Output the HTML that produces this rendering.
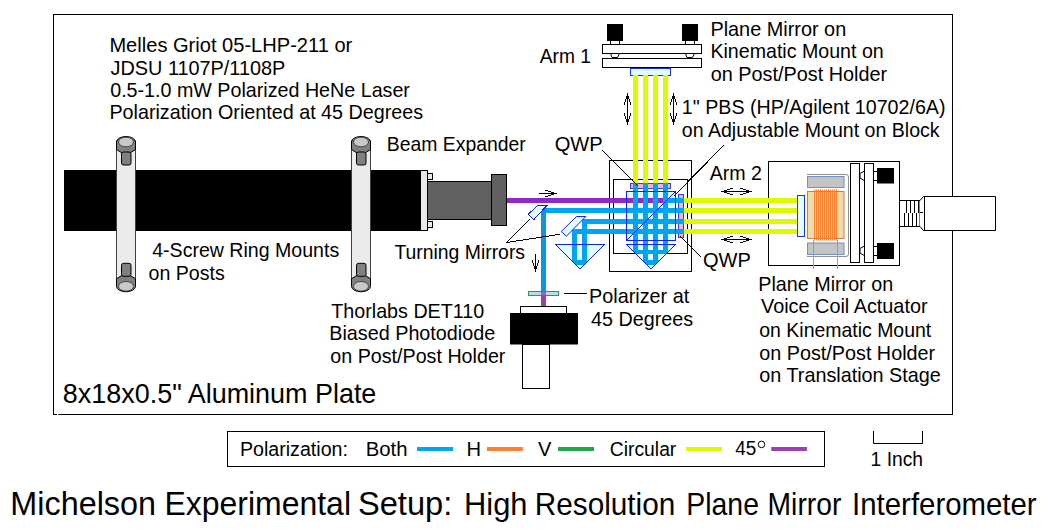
<!DOCTYPE html>
<html><head><meta charset="utf-8"><style>
html,body{margin:0;padding:0;background:#fff;overflow:hidden;}
svg{display:block;}
text{font-family:"Liberation Sans",sans-serif;fill:#000;white-space:pre;}
</style></head><body>
<svg width="1052" height="530" viewBox="0 0 1052 530">
<rect x="0" y="0" width="1052" height="530" fill="#fff"/>
<defs>
<clipPath id="rr1"><polygon points="555.5,244.5 604.5,244.5 580,269"/></clipPath>
<clipPath id="rr2"><polygon points="626.5,244.5 675.5,244.5 651,269"/></clipPath>
<g id="screw">
<path d="M116.5,142 A9.5,5.5 0 0 1 135.5,142 V149.5 Q126,157.5 116.5,149.5 Z" fill="#808080" stroke="#000" stroke-width="1"/>
<ellipse cx="126" cy="142" rx="7.5" ry="4.8" fill="#c8c8c8" stroke="#303030" stroke-width="0.8"/>
<rect x="121.5" y="152" width="9.5" height="13" rx="2" fill="#808080" stroke="#000" stroke-width="1"/>
</g>
</defs>
<!-- plate -->
<rect x="53.5" y="14.5" width="899" height="400" fill="none" stroke="#000" stroke-width="1"/>

<rect x="57" y="413.5" width="1.2" height="1.5" fill="#fff"/>
<!-- laser -->
<rect x="64" y="170" width="356" height="61" fill="#000"/>
<rect x="420.5" y="170.5" width="7" height="60" fill="#e8e8e8" stroke="#000"/>
<rect x="427.5" y="173.5" width="5" height="6" fill="#e8e8e8" stroke="#000"/>
<rect x="427.5" y="221.5" width="5" height="6" fill="#e8e8e8" stroke="#000"/>
<rect x="427.5" y="181.5" width="64" height="38" fill="#606060" stroke="#000"/>
<rect x="491.5" y="174.5" width="15" height="51" fill="#606060" stroke="#000"/>

<!-- ring mounts -->
<rect x="116.5" y="141" width="19" height="144" fill="#ebebeb" stroke="#404040"/>
<use href="#screw"/>
<use href="#screw" transform="translate(0,428.3) scale(1,-1)"/>
<g transform="translate(235,0)">
<rect x="116.5" y="141" width="19" height="144" fill="#ebebeb" stroke="#404040"/>
<use href="#screw"/>
<use href="#screw" transform="translate(0,428.3) scale(1,-1)"/>
</g>

<!-- arm1 mount -->
<rect x="607" y="24" width="16" height="17" fill="#000"/>
<rect x="682" y="24" width="16" height="17" fill="#000"/>
<rect x="610.5" y="40.5" width="9" height="4" fill="#fff" stroke="#000"/>
<rect x="685.5" y="40.5" width="9" height="4" fill="#fff" stroke="#000"/>
<rect x="602.5" y="44.5" width="99" height="9" fill="#fff" stroke="#000"/>
<rect x="602.5" y="58.5" width="99" height="9" fill="#fff" stroke="#000"/>
<path d="M610.5,53.5 L612,57.5 H617.5 L619.5,53.5 M685.5,53.5 L687,57.5 H692.5 L694.5,53.5" fill="none" stroke="#000"/>
<rect x="630.5" y="68.5" width="40" height="7" fill="#e0ffff" stroke="#2030e0"/>

<!-- arrows -->
<g fill="#000" shape-rendering="crispEdges">
<rect x="539" y="193" width="18" height="1"/>
<rect x="551" y="192" width="3" height="3"/>
<rect x="545" y="190" width="3" height="1"/>
<rect x="548" y="191" width="3" height="1"/>
<rect x="545" y="196" width="3" height="1"/>
<rect x="548" y="195" width="3" height="1"/>
<rect x="721" y="191" width="31" height="1"/>
<rect x="724" y="190" width="3" height="3"/>
<rect x="746" y="190" width="3" height="3"/>
<rect x="727" y="189" width="3" height="1"/>
<rect x="730" y="188" width="3" height="1"/>
<rect x="727" y="193" width="3" height="1"/>
<rect x="730" y="194" width="3" height="1"/>
<rect x="743" y="189" width="3" height="1"/>
<rect x="740" y="188" width="3" height="1"/>
<rect x="743" y="193" width="3" height="1"/>
<rect x="740" y="194" width="3" height="1"/>
<rect x="721" y="239" width="31" height="1"/>
<rect x="724" y="238" width="3" height="3"/>
<rect x="746" y="238" width="3" height="3"/>
<rect x="727" y="237" width="3" height="1"/>
<rect x="730" y="236" width="3" height="1"/>
<rect x="727" y="241" width="3" height="1"/>
<rect x="730" y="242" width="3" height="1"/>
<rect x="743" y="237" width="3" height="1"/>
<rect x="740" y="236" width="3" height="1"/>
<rect x="743" y="241" width="3" height="1"/>
<rect x="740" y="242" width="3" height="1"/>
<rect x="627" y="93" width="1" height="32"/>
<rect x="626" y="96" width="3" height="3"/>
<rect x="626" y="119" width="3" height="3"/>
<rect x="625" y="99" width="1" height="3"/>
<rect x="624" y="102" width="1" height="3"/>
<rect x="629" y="99" width="1" height="3"/>
<rect x="630" y="102" width="1" height="3"/>
<rect x="625" y="116" width="1" height="3"/>
<rect x="624" y="113" width="1" height="3"/>
<rect x="629" y="116" width="1" height="3"/>
<rect x="630" y="113" width="1" height="3"/>
<rect x="673" y="93" width="1" height="32"/>
<rect x="672" y="96" width="3" height="3"/>
<rect x="672" y="119" width="3" height="3"/>
<rect x="671" y="99" width="1" height="3"/>
<rect x="670" y="102" width="1" height="3"/>
<rect x="675" y="99" width="1" height="3"/>
<rect x="676" y="102" width="1" height="3"/>
<rect x="671" y="116" width="1" height="3"/>
<rect x="670" y="113" width="1" height="3"/>
<rect x="675" y="116" width="1" height="3"/>
<rect x="676" y="113" width="1" height="3"/>
<rect x="535" y="254" width="1" height="18"/>
<rect x="534" y="266" width="3" height="3"/>
<rect x="532" y="260" width="1" height="3"/>
<rect x="533" y="263" width="1" height="3"/>
<rect x="538" y="260" width="1" height="3"/>
<rect x="537" y="263" width="1" height="3"/>
</g>

<!-- boxes -->
<rect x="609.5" y="160.5" width="82" height="111" fill="none" stroke="#000"/>
<rect x="613.5" y="179.5" width="74" height="74" fill="none" stroke="#000"/>
<rect x="768.5" y="161.5" width="131" height="104" fill="none" stroke="#000"/>
<!-- yellow beams -->
<g fill="#dcfa00">
<rect x="633" y="75" width="5" height="108"/>
<rect x="643" y="75" width="5" height="108"/>
<rect x="653" y="75" width="5" height="108"/>
<rect x="663" y="75" width="5" height="108"/>
<rect x="684" y="198" width="113" height="5"/>
<rect x="684" y="208" width="113" height="5"/>
<rect x="684" y="219" width="113" height="5"/>
<rect x="684" y="229" width="113" height="5"/>
</g>

<!-- PBS boxes -->

<!-- fills -->
<polygon points="555.5,244.5 604.5,244.5 580,269" fill="#e0ffff"/>
<polygon points="626.5,244.5 675.5,244.5 651,269" fill="#e0ffff"/>
<rect x="626.5" y="191.5" width="49" height="49" fill="#e0ffff"/>
<rect x="630.5" y="183.5" width="40" height="5" fill="#ffb0b8" stroke="#3040e0"/>
<rect x="678.5" y="194.5" width="5" height="43" fill="#ffb0b8" stroke="#3040e0"/>

<!-- purple beam -->
<rect x="507" y="198" width="156" height="5" fill="#9028c8"/>
<!-- blue beams -->
<g fill="#00a4f0">
<rect x="663" y="198" width="21" height="5"/>
<rect x="541" y="208" width="143" height="5"/>
<rect x="541" y="208" width="5" height="83" fill="#0898e0"/>
<rect x="582" y="219" width="102" height="5"/>
<rect x="572" y="229" width="112" height="5"/>
<rect x="582" y="219" width="5" height="26"/>
<rect x="572" y="229" width="5" height="16"/>
<rect x="633" y="183" width="5" height="62"/>
<rect x="643" y="183" width="5" height="62"/>
<rect x="653" y="183" width="5" height="62"/>
<rect x="663" y="183" width="5" height="62"/>
<g clip-path="url(#rr1)">
<path d="M572,244 V265 H587 V244 H582 V260 H577 V244 Z"/>
</g>
<g clip-path="url(#rr2)">
<rect x="633" y="244" width="5" height="10"/><rect x="663" y="244" width="5" height="10"/><rect x="643" y="244" width="5" height="21"/><rect x="653" y="244" width="5" height="21"/><rect x="633" y="250" width="35" height="4"/><rect x="630" y="260" width="40" height="5"/>
</g>
</g>
<!-- beam below polarizer -->
<rect x="541" y="295" width="5" height="11" fill="#9a40b0"/>

<!-- outlines -->
<polygon points="555.5,244.5 604.5,244.5 580,269" fill="none" stroke="#1020f0" shape-rendering="crispEdges"/>
<polygon points="626.5,244.5 675.5,244.5 651,269" fill="none" stroke="#1020f0" shape-rendering="crispEdges"/>
<rect x="626.5" y="191.5" width="49" height="49" fill="none" stroke="#1020f0"/>
<line x1="626.5" y1="240.5" x2="675.5" y2="191.5" stroke="#1020f0" shape-rendering="crispEdges"/>

<!-- turning mirrors -->
<polygon points="537.5,205.5 546.9,205.5 533.7,219.7 528.3,214.3" fill="#e0ffff" stroke="#1020f0" shape-rendering="crispEdges"/>
<polygon points="576.5,216.5 585.8,216.5 566.3,236.3 561.2,231.5" fill="#e0ffff" stroke="#1020f0"/>

<!-- leader lines -->
<g stroke="#000" stroke-width="1" fill="none" shape-rendering="crispEdges">
<path d="M602,150 L638.5,186.5"/>
<path d="M673.5,196.5 L723.5,145.5"/>
<path d="M680,236 L701,257"/>
<path d="M529.8,219.4 L506.7,242.5 L559.8,234.3"/>
<path d="M564,293.5 H587"/>
</g>

<!-- polarizer -->
<rect x="528.5" y="291.5" width="30" height="4" fill="#b8dcef" stroke="#20a040"/>
<rect x="541" y="291" width="5" height="5" fill="#9a40b0" opacity="0.8"/>
<!-- detector -->
<rect x="520.5" y="306.5" width="46" height="7" fill="#fff" stroke="#000"/>
<rect x="510" y="313" width="68" height="31.5" fill="#000"/>
<rect x="522.5" y="344.5" width="27" height="44" fill="#fff" stroke="#000"/>

<!-- voice coil assembly -->
<rect x="797.5" y="195.5" width="7" height="41" fill="#e0ffff" stroke="#2030e0"/>
<path d="M807,174.5 H846 Q848.5,174.5 848.5,177 V254 Q848.5,256.5 846,256.5 H807" fill="none" stroke="#909090"/>
<rect x="807.5" y="176.5" width="36.5" height="11" fill="#c4c4c4" stroke="#7090c8"/>
<rect x="807.5" y="243" width="36.5" height="11.5" fill="#c4c4c4" stroke="#7090c8"/>
<rect x="807.5" y="191.5" width="36.5" height="47" fill="#f0dca8" stroke="#c08050"/>
<g stroke="#ff8030" stroke-width="1">
<path d="M814.5,189.5 V240.5 M816.5,189.5 V240.5 M818.5,189.5 V240.5 M820.5,189.5 V240.5 M822.5,189.5 V240.5 M824.5,189.5 V240.5 M826.5,189.5 V240.5 M828.5,189.5 V240.5 M830.5,189.5 V240.5 M832.5,189.5 V240.5 M834.5,189.5 V240.5 M836.5,189.5 V240.5"/>
<path d="M813.5,240 V269 M837.5,240 V269"/>
</g>
<rect x="850.5" y="163.5" width="9" height="99" fill="#fff" stroke="#000"/>
<rect x="864.5" y="163.5" width="9" height="99" fill="#fff" stroke="#000"/>
<path d="M864.5,171 L860,173.5 V178 L864.5,180.7 M864.5,246 L860,248.5 V253 L864.5,255.7" fill="none" stroke="#000"/>
<rect x="873.5" y="171.5" width="4" height="9" fill="#fff" stroke="#000"/>
<rect x="873.5" y="246.5" width="4" height="9" fill="#fff" stroke="#000"/>
<rect x="877" y="168" width="17" height="15.5" fill="#000"/>
<rect x="877" y="243" width="17" height="16" fill="#000"/>
<!-- micrometer -->
<g stroke="#000" fill="#fff" stroke-width="1">
<path d="M899.5,200.5 H920 V226.5 H899.5" fill="none"/>
<path d="M920,200.5 L923.5,196.5 H995.5 V230.5 H923.5 L920,226.5" />
<path d="M924.5,197 V230" fill="none"/>
<path d="M906.5,200.5 V213 M910.5,200.5 V213 M914.5,200.5 V213 M918.5,200.5 V213 M904.5,213 V226.5 M908.5,213 V226.5 M912.5,213 V226.5 M916.5,213 V226.5 M920,212.5 H923" fill="none"/>
</g>

<!-- legend -->
<rect x="227.5" y="431.5" width="597" height="35" fill="none" stroke="#000"/>
<rect x="417" y="447" width="36" height="4" fill="#00a4f0"/>
<rect x="487" y="447" width="35.8" height="4" fill="#ff8030"/>
<rect x="558" y="447" width="36" height="4" fill="#20a848"/>
<rect x="685.8" y="447" width="36.2" height="4" fill="#dcfa00"/>
<rect x="771.3" y="447" width="35.6" height="4" fill="#9a40b0"/>
<path d="M873.5,431 V443.5 H922.5 V431" fill="none" stroke="#000"/>
<circle cx="761.5" cy="444.4" r="3.3" fill="none" stroke="#000" stroke-width="1"/>

<text x="109.40" y="52.10" font-size="20.9" textLength="242.92" lengthAdjust="spacingAndGlyphs">Melles Griot 05-LHP-211 or</text>
<text x="110.60" y="74.80" font-size="20.9" textLength="174.67" lengthAdjust="spacingAndGlyphs">JDSU 1107P/1108P</text>
<text x="110.20" y="96.90" font-size="20.9" textLength="299.74" lengthAdjust="spacingAndGlyphs">0.5-1.0 mW Polarized HeNe Laser</text>
<text x="109.40" y="118.80" font-size="20.9" textLength="313.73" lengthAdjust="spacingAndGlyphs">Polarization Oriented at 45 Degrees</text>
<text x="710.40" y="35.80" font-size="20.9" textLength="135.81" lengthAdjust="spacingAndGlyphs">Plane Mirror on</text>
<text x="710.40" y="58.40" font-size="20.9" textLength="173.34" lengthAdjust="spacingAndGlyphs">Kinematic Mount on</text>
<text x="710.80" y="81.40" font-size="20.9" textLength="176.30" lengthAdjust="spacingAndGlyphs">on Post/Post Holder</text>
<text x="539.80" y="63.40" font-size="20.9" textLength="51.22" lengthAdjust="spacingAndGlyphs">Arm 1</text>
<text x="681.80" y="114.20" font-size="20.9" textLength="263.71" lengthAdjust="spacingAndGlyphs">1&quot; PBS (HP/Agilent 10702/6A)</text>
<text x="681.80" y="136.90" font-size="20.9" textLength="257.85" lengthAdjust="spacingAndGlyphs">on Adjustable Mount on Block</text>
<text x="386.70" y="150.60" font-size="20.9" textLength="139.11" lengthAdjust="spacingAndGlyphs">Beam Expander</text>
<text x="554.70" y="150.60" font-size="20.9" textLength="48.01" lengthAdjust="spacingAndGlyphs">QWP</text>
<text x="709.70" y="180.40" font-size="20.9" textLength="52.32" lengthAdjust="spacingAndGlyphs">Arm 2</text>
<text x="703.00" y="266.90" font-size="20.9" textLength="47.91" lengthAdjust="spacingAndGlyphs">QWP</text>
<text x="152.20" y="257.10" font-size="20.9" textLength="187.00" lengthAdjust="spacingAndGlyphs">4-Screw Ring Mounts</text>
<text x="148.50" y="279.90" font-size="20.9" textLength="76.20" lengthAdjust="spacingAndGlyphs">on Posts</text>
<text x="394.40" y="258.70" font-size="20.9" textLength="130.64" lengthAdjust="spacingAndGlyphs">Turning Mirrors</text>
<text x="758.30" y="290.80" font-size="20.9" textLength="134.81" lengthAdjust="spacingAndGlyphs">Plane Mirror on</text>
<text x="761.00" y="313.40" font-size="20.9" textLength="166.56" lengthAdjust="spacingAndGlyphs">Voice Coil Actuator</text>
<text x="759.30" y="336.70" font-size="20.9" textLength="171.94" lengthAdjust="spacingAndGlyphs">on Kinematic Mount</text>
<text x="759.30" y="359.50" font-size="20.9" textLength="175.80" lengthAdjust="spacingAndGlyphs">on Post/Post Holder</text>
<text x="759.30" y="382.10" font-size="20.9" textLength="181.54" lengthAdjust="spacingAndGlyphs">on Translation Stage</text>
<text x="589.10" y="302.90" font-size="20.9" textLength="100.07" lengthAdjust="spacingAndGlyphs">Polarizer at</text>
<text x="591.10" y="325.60" font-size="20.9" textLength="102.02" lengthAdjust="spacingAndGlyphs">45 Degrees</text>
<text x="331.30" y="318.10" font-size="20.9" textLength="152.87" lengthAdjust="spacingAndGlyphs">Thorlabs DET110</text>
<text x="329.30" y="340.10" font-size="20.9" textLength="165.89" lengthAdjust="spacingAndGlyphs">Biased Photodiode</text>
<text x="330.30" y="363.20" font-size="20.9" textLength="175.10" lengthAdjust="spacingAndGlyphs">on Post/Post Holder</text>
<text x="62.80" y="403.10" font-size="28.3" textLength="313.56" lengthAdjust="spacingAndGlyphs">8x18x0.5&quot; Aluminum Plate</text>
<text x="10.30" y="514.60" font-size="33.5" textLength="145.73" lengthAdjust="spacingAndGlyphs">Michelson</text>
<text x="164.40" y="514.60" font-size="33.5" textLength="186.62" lengthAdjust="spacingAndGlyphs">Experimental</text>
<text x="357.90" y="514.60" font-size="33.5" textLength="94.36" lengthAdjust="spacingAndGlyphs">Setup:</text>
<text x="464.00" y="514.60" font-size="31.2" textLength="63.46" lengthAdjust="spacingAndGlyphs">High</text>
<text x="534.70" y="514.60" font-size="31.2" textLength="140.67" lengthAdjust="spacingAndGlyphs">Resolution</text>
<text x="686.30" y="514.60" font-size="31.2" textLength="72.68" lengthAdjust="spacingAndGlyphs">Plane</text>
<text x="767.60" y="514.60" font-size="31.2" textLength="73.72" lengthAdjust="spacingAndGlyphs">Mirror</text>
<text x="852.10" y="514.60" font-size="31.2" textLength="184.57" lengthAdjust="spacingAndGlyphs">Interferometer</text>
<text x="239.90" y="456.20" font-size="19.6" textLength="108.03" lengthAdjust="spacingAndGlyphs">Polarization:</text>
<text x="365.70" y="456.20" font-size="19.6" textLength="41.81" lengthAdjust="spacingAndGlyphs">Both</text>
<text x="466.60" y="456.20" font-size="19.6" textLength="14.56" lengthAdjust="spacingAndGlyphs">H</text>
<text x="538.00" y="456.20" font-size="19.6" textLength="13.38" lengthAdjust="spacingAndGlyphs">V</text>
<text x="609.80" y="456.20" font-size="19.6" textLength="66.50" lengthAdjust="spacingAndGlyphs">Circular</text>
<text x="735.30" y="454.70" font-size="19.6" textLength="21.00" lengthAdjust="spacingAndGlyphs">45</text>
<text x="870.60" y="466.00" font-size="19.6" textLength="52.39" lengthAdjust="spacingAndGlyphs">1 Inch</text>
</svg>
</body></html>
